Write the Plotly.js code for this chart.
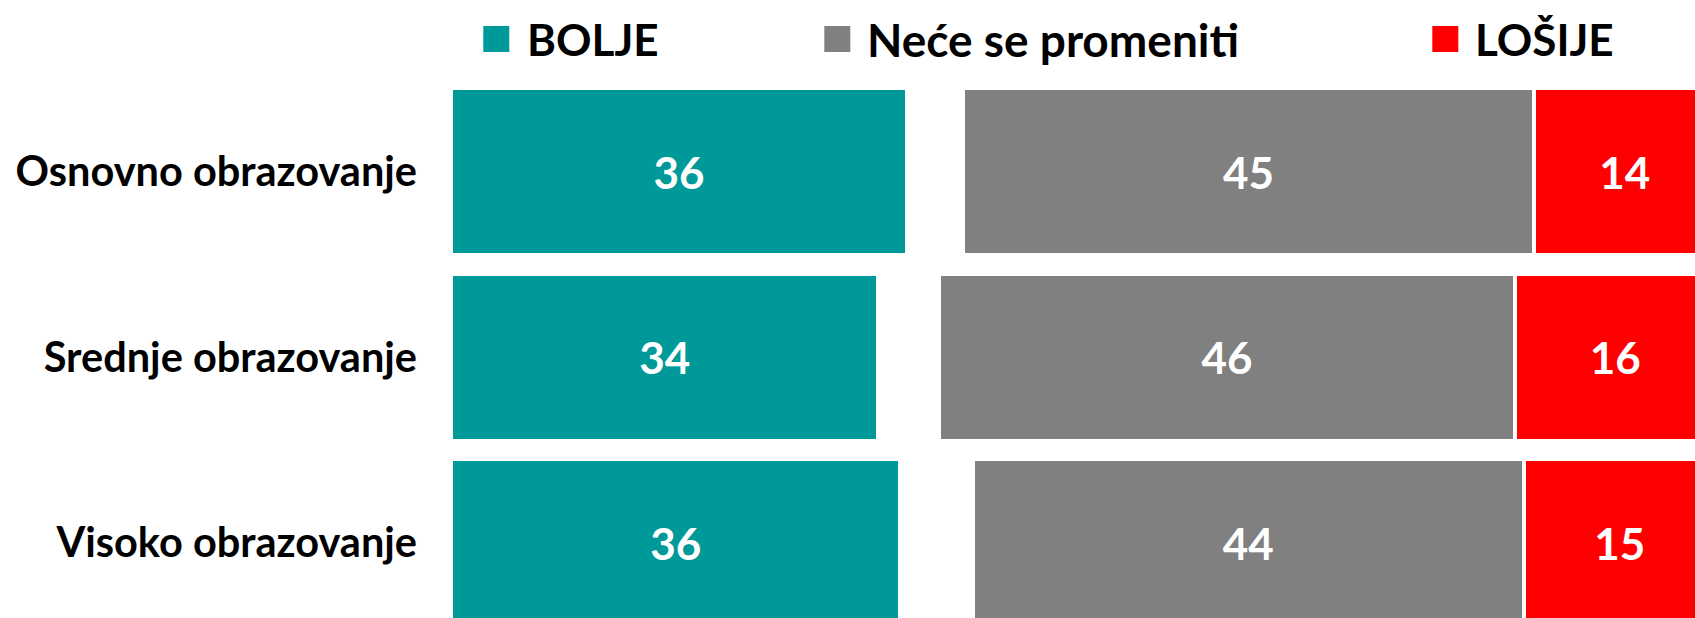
<!DOCTYPE html>
<html>
<head>
<meta charset="utf-8">
<script src="https://cdn.plot.ly/plotly-3.0.1.min.js"></script>
<style>
  html, body { margin: 0; padding: 0; background: #ffffff; overflow: hidden; }
  #chart { width: 1695px; height: 618px; }
</style>
</head>
<body>
<div id="chart"></div>
<script>
// ---- data (100% stacked, labels shown rounded) ----
const categories = ['Osnovno obrazovanje', 'Srednje obrazovanje', 'Visoko obrazovanje'];
const seriesNames = ['BOLJE', 'Neće se promeniti', 'LOŠIJE'];
const bolje = [36.05, 33.8, 35.55];
const bezOdgovora = [4.45, 4.8, 5.7];      // unlabeled, invisible remainder segment
const neceSePromeniti = [45.15, 45.55, 43.6];
const losije = [14.35, 15.85, 15.15];
const seriesColors = ['#009999', '#808080', '#FF0000'];

// ---- geometry ----
const FIG_W = 1695, FIG_H = 618;
const M = { l: 451, r: 0, t: 79, b: 0 };
const plotW = FIG_W - M.l - M.r;
const plotH = FIG_H - M.t - M.b;
const pxPerUnit = 12.645;
const rowPitch = 185.5;
const px = x => (x - M.l) / plotW;
const py = y => 1 - (y - M.t) / plotH;

const FONT = 'Lato, "Open Sans", "Noto Sans", sans-serif';

function barTrace(name, values, color, showText) {
  return {
    type: 'bar',
    orientation: 'h',
    name: name,
    x: values,
    y: categories,
    marker: {
      color: color,
      line: { color: '#ffffff', width: showText ? 4.3 : 0 }
    },
    texttemplate: showText ? '%{x:.0f}' : '',
    textposition: showText ? 'inside' : 'none',
    insidetextanchor: 'middle',
    textangle: 0,
    constraintext: 'none',
    textfont: { family: FONT, size: 44, color: '#ffffff', weight: 'bold' },
    hoverinfo: showText ? 'name+x' : 'skip',
    showlegend: false
  };
}

const data = [
  barTrace(seriesNames[0], bolje, seriesColors[0], true),
  barTrace('', bezOdgovora, 'rgba(0,0,0,0)', false),
  barTrace(seriesNames[1], neceSePromeniti, seriesColors[1], true),
  barTrace(seriesNames[2], losije, seriesColors[2], true)
];

// ---- custom legend (large square swatches) ----
const swatchLeft = [483.3, 824.3, 1432.3];
const labelLeft = [526, 866, 1474];
const labelSize = [44, 46, 44];
const swatchSize = 26;
const legendCenterY = 39;

const shapes = seriesNames.map((n, i) => ({
  type: 'rect',
  xref: 'paper', yref: 'paper',
  x0: px(swatchLeft[i]), x1: px(swatchLeft[i] + swatchSize),
  y0: py(legendCenterY + swatchSize / 2), y1: py(legendCenterY - swatchSize / 2),
  fillcolor: seriesColors[i],
  line: { width: 0 }
}));

const annotations = seriesNames.map((n, i) => ({
  text: n,
  xref: 'paper', yref: 'paper',
  x: px(labelLeft[i]), y: py(legendCenterY),
  xanchor: 'left', yanchor: 'middle',
  showarrow: false,
  borderpad: 0,
  font: { family: FONT, size: labelSize[i], color: '#000000', weight: 'bold' }
}));

const nVisibleRows = plotH / rowPitch;

const layout = {
  width: FIG_W,
  height: FIG_H,
  margin: M,
  paper_bgcolor: '#ffffff',
  plot_bgcolor: '#ffffff',
  barmode: 'stack',
  bargap: 0.1,
  showlegend: false,
  xaxis: {
    range: [0, plotW / pxPerUnit],
    visible: false,
    fixedrange: true
  },
  yaxis: {
    type: 'category',
    categoryorder: 'array',
    categoryarray: categories,
    range: [-0.5 + nVisibleRows, -0.5],
    showgrid: false,
    zeroline: false,
    showline: false,
    ticks: '',
    ticklabelstandoff: 33,
    tickfont: { family: FONT, size: 41.5, color: '#000000', weight: 'bold' },
    fixedrange: true
  },
  shapes: shapes,
  annotations: annotations
};

Plotly.newPlot('chart', data, layout, { displayModeBar: false, staticPlot: true });
</script>
</body>
</html>
